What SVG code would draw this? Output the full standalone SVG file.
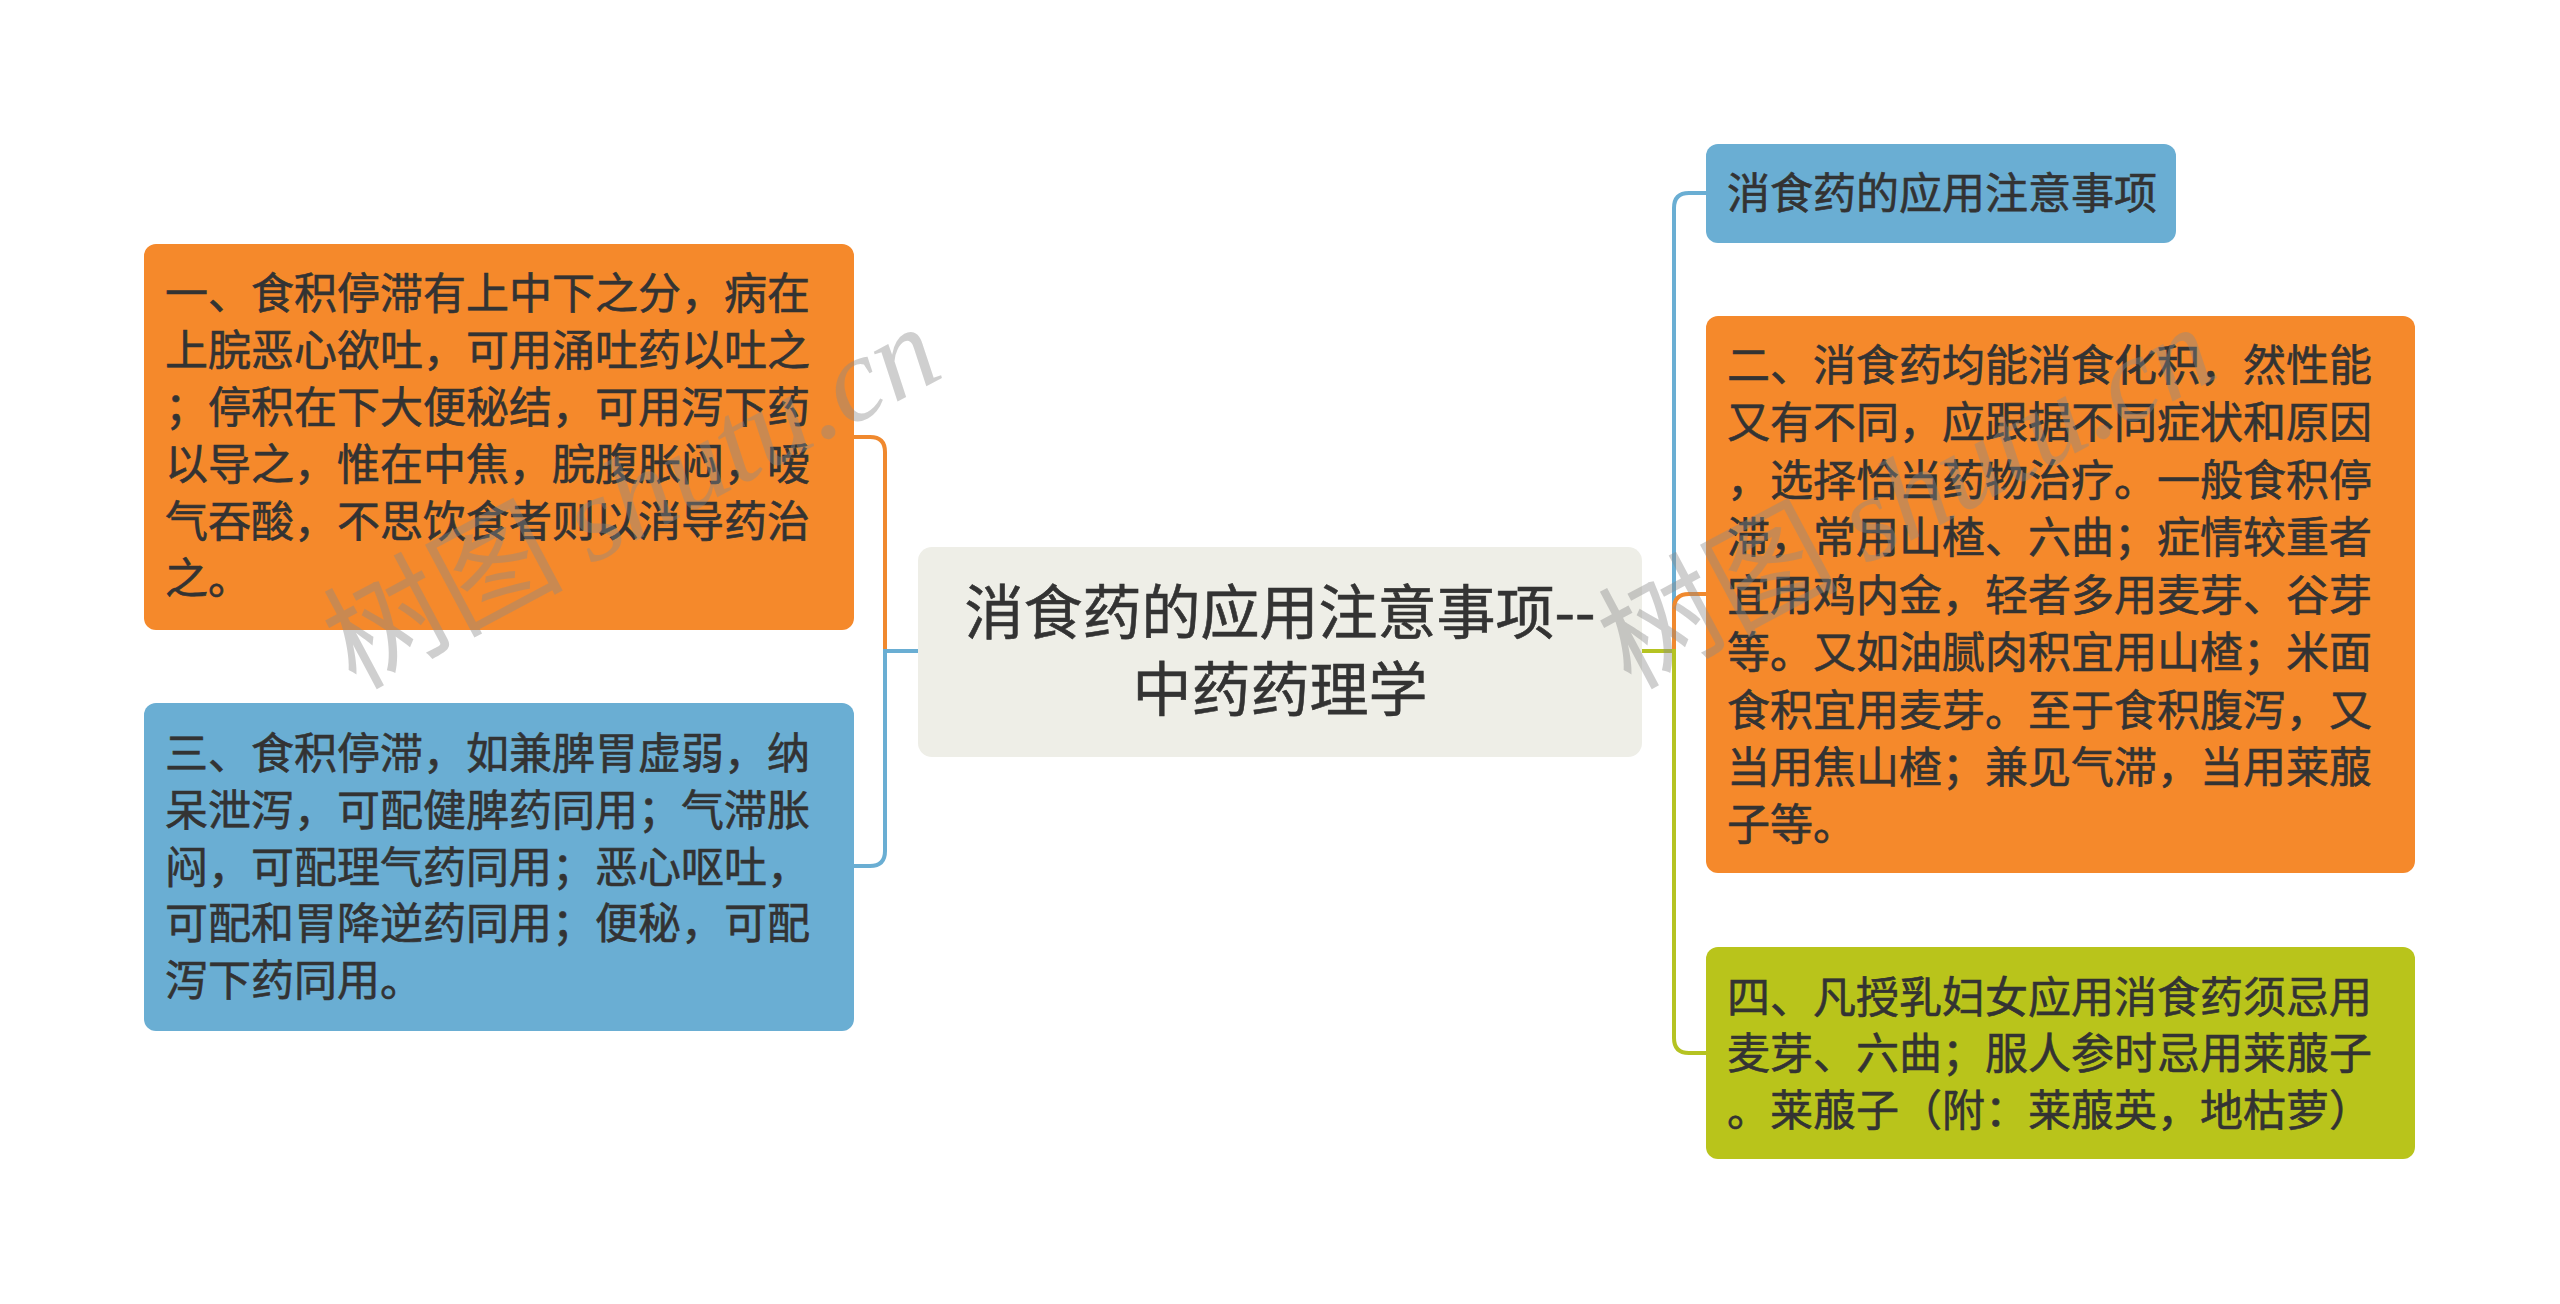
<svg xmlns="http://www.w3.org/2000/svg" width="2560" height="1304" viewBox="0 0 2560 1304">
<style>
.conn{fill:none;stroke-width:4}
.t{font-family:"Noto Sans CJK SC","Noto Sans",sans-serif;font-size:43px;fill:#333333;stroke:#333333;stroke-width:0.6}
.title{font-family:"Noto Sans CJK SC","Noto Sans",sans-serif;font-size:59px;fill:#333333;stroke:#333333;stroke-width:0.6;text-anchor:middle}
.wm{fill:#8a8a8a;opacity:0.4;font-size:120px}
</style>
<rect width="2560" height="1304" fill="#ffffff"/>
<g id="connectors">
<path class="conn" stroke="#F0892E" d="M854 437 H870 Q885 437 885 452 V651 H918"/>
<path class="conn" stroke="#6AAED3" d="M918 651 H885 V851 Q885 866 870 866 H854"/>
<path class="conn" stroke="#6AAED3" d="M1642 651 H1674 V208 Q1674 193 1689 193 H1706"/>
<path class="conn" stroke="#F0892E" d="M1642 651 H1674 V609 Q1674 594 1689 594 H1706"/>
<path class="conn" stroke="#B5C322" d="M1642 651 H1674 V1038 Q1674 1053 1689 1053 H1706"/>
</g>
<g id="center">
<rect x="918" y="547" width="724" height="210" rx="14" fill="#EEEEE7"/>
<text class="title"><tspan x="1280" y="634">消食药的应用注意事项--</tspan><tspan x="1280" y="711">中药药理学</tspan></text>
</g>
<g id="node-left-1">
<rect x="144" y="244" width="710" height="386" rx="12" fill="#F5892B"/>
<text class="t"><tspan x="165" y="309">一、食积停滞有上中下之分，病在</tspan><tspan x="165" y="366">上脘恶心欲吐，可用涌吐药以吐之</tspan><tspan x="165" y="423">；停积在下大便秘结，可用泻下药</tspan><tspan x="165" y="480">以导之，惟在中焦，脘腹胀闷，嗳</tspan><tspan x="165" y="537">气吞酸，不思饮食者则以消导药治</tspan><tspan x="165" y="594">之。</tspan></text>
</g>
<g id="node-left-3">
<rect x="144" y="703" width="710" height="328" rx="12" fill="#6AAED3"/>
<text class="t"><tspan x="165" y="769">三、食积停滞，如兼脾胃虚弱，纳</tspan><tspan x="165" y="826">呆泄泻，可配健脾药同用；气滞胀</tspan><tspan x="165" y="883">闷，可配理气药同用；恶心呕吐，</tspan><tspan x="165" y="939">可配和胃降逆药同用；便秘，可配</tspan><tspan x="165" y="996">泻下药同用。</tspan></text>
</g>
<g id="node-right-title">
<rect x="1706" y="144" width="470" height="99" rx="12" fill="#6AAED3"/>
<text class="t"><tspan x="1727" y="209">消食药的应用注意事项</tspan></text>
</g>
<g id="node-right-2">
<rect x="1706" y="316" width="709" height="557" rx="12" fill="#F5892B"/>
<text class="t"><tspan x="1727" y="381">二、消食药均能消食化积，然性能</tspan><tspan x="1727" y="438">又有不同，应跟据不同症状和原因</tspan><tspan x="1727" y="496">，选择恰当药物治疗。一般食积停</tspan><tspan x="1727" y="553">滞，常用山楂、六曲；症情较重者</tspan><tspan x="1727" y="611">宜用鸡内金，轻者多用麦芽、谷芽</tspan><tspan x="1727" y="668">等。又如油腻肉积宜用山楂；米面</tspan><tspan x="1727" y="726">食积宜用麦芽。至于食积腹泻，又</tspan><tspan x="1727" y="783">当用焦山楂；兼见气滞，当用莱菔</tspan><tspan x="1727" y="840">子等。</tspan></text>
</g>
<g id="node-right-4">
<rect x="1706" y="947" width="709" height="212" rx="12" fill="#B9C41B"/>
<text class="t"><tspan x="1727" y="1013">四、凡授乳妇女应用消食药须忌用</tspan><tspan x="1727" y="1069">麦芽、六曲；服人参时忌用莱菔子</tspan><tspan x="1727" y="1126">。莱菔子（附：莱菔英，地枯萝）</tspan></text>
</g>
<g id="watermarks">
<text class="wm" x="355" y="690" transform="rotate(-28 355 690)"><tspan font-family="Noto Sans CJK SC, sans-serif">树图 </tspan><tspan font-family="Liberation Serif, serif" font-style="italic">shutu.cn</tspan></text>
<text class="wm" x="1630" y="690" transform="rotate(-28 1630 690)"><tspan font-family="Noto Sans CJK SC, sans-serif">树图 </tspan><tspan font-family="Liberation Serif, serif" font-style="italic">shutu.cn</tspan></text>
</g>
</svg>
